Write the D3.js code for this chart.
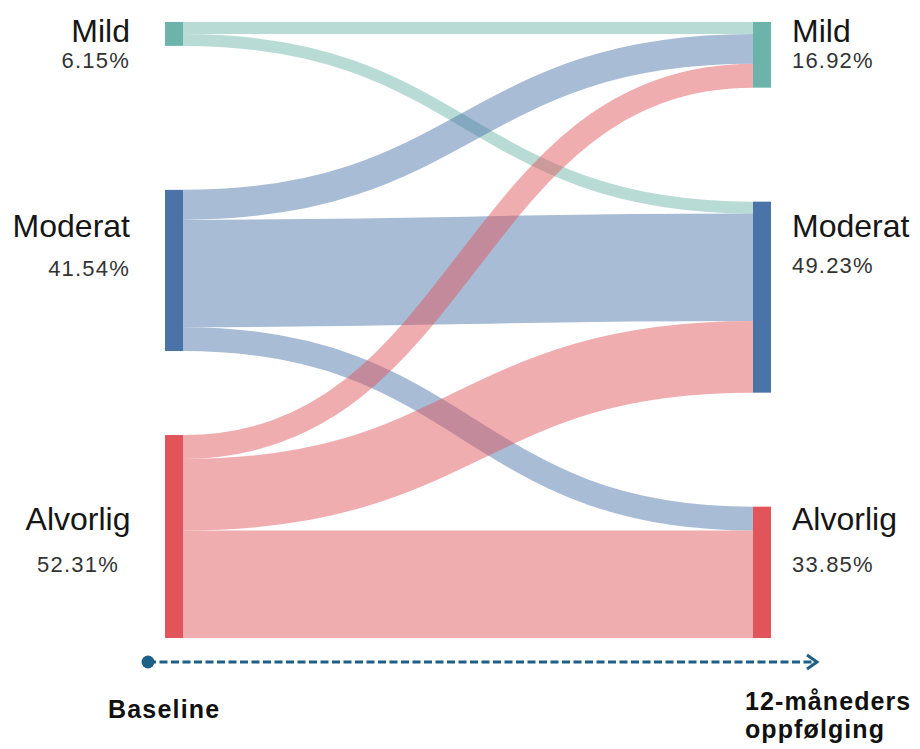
<!DOCTYPE html>
<html>
<head>
<meta charset="utf-8">
<script src="https://cdn.jsdelivr.net/npm/d3@7"></script>
<style>
  html, body { margin: 0; padding: 0; background: #fff; }
  svg { display: block; font-family: "Liberation Sans", Arial, Helvetica, sans-serif; }
</style>
</head>
<body>
<svg id="chart" width="920" height="749"></svg>
<script>
// Severity categories and share of patients (%) at each time point
const categories = ["Mild", "Moderat", "Alvorlig"];
const baselinePct = [6.15, 41.54, 52.31];
const followupPct = [16.92, 49.23, 33.85];
// Transitions (% of all patients): rows = baseline category, cols = follow-up category
const flowMild     = [3.08, 3.08, 0];
const flowModerat  = [7.69, 27.69, 6.15];
const flowAlvorlig = [6.15, 18.46, 27.69];
const stageLabels = ["Baseline", "12-måneders oppfølging"];
const nodeColors = ["#6cb4a9", "#4a73a7", "#e0545a"];

const flows = [flowMild, flowModerat, flowAlvorlig];

const svg = d3.select("#chart");
const plotTop = 22, plotBottom = 638, nodeW = 18;
const leftGaps = [144, 84];

// columns placed with a point scale over the two stages
const xStage = d3.scalePoint().domain(stageLabels).range([165, 753]);
// value (% of patients) -> pixel height
const h = d3.scaleLinear().domain([0, 100]).range([0, 388]);

function layoutColumn(pcts, gaps) {
  let y = plotTop;
  return pcts.map((p, i) => {
    const node = { y0: y, y1: y + h(p) };
    y = node.y1 + (gaps[i] || 0);
    return node;
  });
}
const rightSpare = (plotBottom - plotTop) - d3.sum(followupPct, h);
const rightGaps = [rightSpare / 2, rightSpare / 2];

const leftNodes = layoutColumn(baselinePct, leftGaps);
const rightNodes = layoutColumn(followupPct, rightGaps);

const xL = xStage(stageLabels[0]), xR = xStage(stageLabels[1]);

// stack links at each node: sources ordered by target, targets ordered by source
const srcOffset = leftNodes.map(n => n.y0);
const tgtOffset = rightNodes.map(n => n.y0);
const links = [];
flows.forEach((row, i) => row.forEach((v, j) => {
  if (v <= 0) return;
  links.push({ i, j, v, sy: srcOffset[i], ty: 0 });
  srcOffset[i] += h(v);
}));
categories.forEach((_, j) => {
  links.filter(l => l.j === j).sort((a, b) => a.i - b.i).forEach(l => {
    l.ty = tgtOffset[j];
    tgtOffset[j] += h(l.v);
  });
});

const linkGen = d3.linkHorizontal();
svg.append("g").selectAll("path").data(links).join("path")
  .attr("d", l => linkGen({
    source: [xL + nodeW, l.sy + h(l.v) / 2],
    target: [xR, l.ty + h(l.v) / 2]
  }))
  .attr("fill", "none")
  .attr("stroke", l => nodeColors[l.i])
  .attr("stroke-opacity", 0.48)
  .attr("stroke-width", l => h(l.v));

// nodes
const nodeG = svg.append("g");
nodeG.selectAll("rect.l").data(leftNodes).join("rect")
  .attr("x", xL).attr("y", d => d.y0)
  .attr("width", nodeW).attr("height", d => d.y1 - d.y0)
  .attr("fill", (d, i) => nodeColors[i]);
nodeG.selectAll("rect.r").data(rightNodes).join("rect")
  .attr("x", xR).attr("y", d => d.y0)
  .attr("width", nodeW).attr("height", d => d.y1 - d.y0)
  .attr("fill", (d, i) => nodeColors[i]);

// node labels: name + percentage
const leftLabelPos = [
  { x: 130, anchor: "end", dn: 20, dp: 46 },
  { x: 130, anchor: "end", dn: 47, dp: 86 },
  { x: 78, anchor: "middle", dn: 95, dp: 137 }
];
const rightLabelPos = [
  { dn: 20, dp: 46 },
  { dn: 35, dp: 71 },
  { dn: 23, dp: 65 }
];
const fmt = d3.format(".2f");
const labG = svg.append("g");
categories.forEach((c, i) => {
  const p = leftLabelPos[i], n = leftNodes[i];
  labG.append("text").attr("x", p.x).attr("y", n.y0 + p.dn)
    .attr("text-anchor", p.anchor).attr("font-size", 32).attr("fill", "#161616").text(c);
  labG.append("text").attr("x", p.x).attr("y", n.y0 + p.dp)
    .attr("text-anchor", p.anchor).attr("font-size", 22).attr("letter-spacing", 1.2)
    .attr("fill", "#333").text(fmt(baselinePct[i]) + "%");
  const q = rightLabelPos[i], m = rightNodes[i];
  const rx = xR + nodeW + 21;
  labG.append("text").attr("x", rx).attr("y", m.y0 + q.dn)
    .attr("font-size", 32).attr("fill", "#161616").text(c);
  labG.append("text").attr("x", rx).attr("y", m.y0 + q.dp)
    .attr("font-size", 22).attr("letter-spacing", 1.2)
    .attr("fill", "#333").text(fmt(followupPct[i]) + "%");
});

// time arrow
const axisColor = "#1d5f86";
const ay = 662;
const axG = svg.append("g");
axG.append("line").attr("x1", 148).attr("x2", 815).attr("y1", ay).attr("y2", ay)
  .attr("stroke", axisColor).attr("stroke-width", 3).attr("stroke-dasharray", "8,3.5");
axG.append("path").attr("d", `M${807},${ay - 7} L${817},${ay} L${807},${ay + 7}`)
  .attr("fill", "none").attr("stroke", axisColor).attr("stroke-width", 3);
axG.append("circle").attr("cx", 148).attr("cy", ay).attr("r", 6.5).attr("fill", axisColor);

axG.append("text").attr("x", 108).attr("y", 718)
  .attr("font-size", 25).attr("font-weight", "bold").attr("letter-spacing", 1.2)
  .attr("fill", "#111").text(stageLabels[0]);
const words = stageLabels[1].split(" ");
axG.append("text").attr("x", 745).attr("y", 710)
  .attr("font-size", 25).attr("font-weight", "bold").attr("letter-spacing", 1.1)
  .attr("fill", "#111").text(words[0]);
axG.append("text").attr("x", 745).attr("y", 738)
  .attr("font-size", 25).attr("font-weight", "bold").attr("letter-spacing", 1.1)
  .attr("fill", "#111").text(words[1]);
</script>
</body>
</html>
